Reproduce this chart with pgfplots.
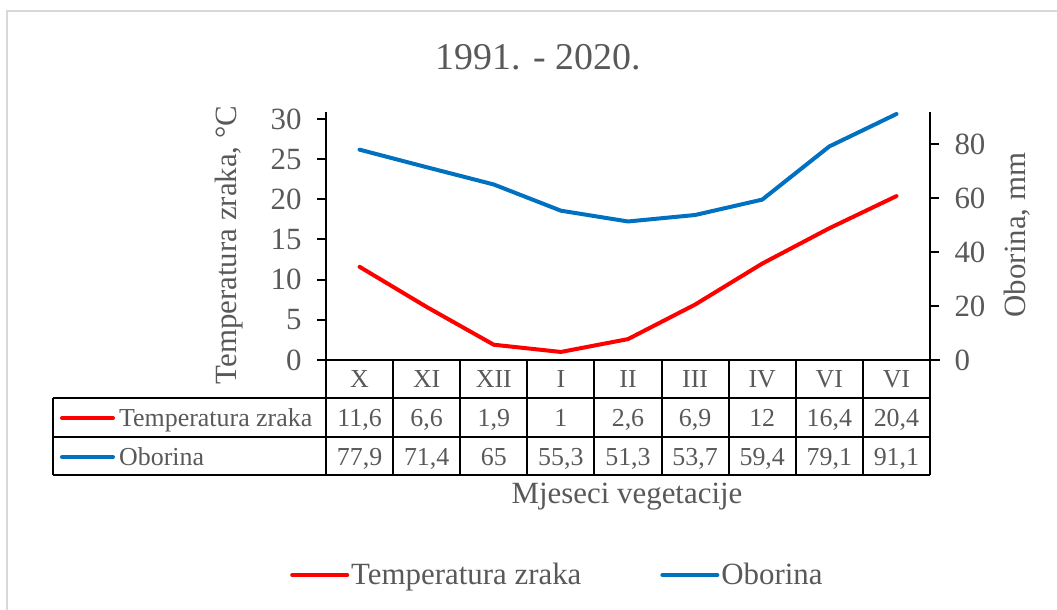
\documentclass[border=0pt]{standalone}
\usepackage{fontspec}
\setmainfont{Liberation Serif}
\usepackage{pgfplots}
\pgfplotsset{compat=1.18}
\definecolor{txt}{HTML}{595959}
\definecolor{tred}{HTML}{FF0000}
\definecolor{oblue}{HTML}{0070C0}
\definecolor{framec}{HTML}{D9D9D9}
\newcommand\fbig{\fontsize{31}{36}\selectfont}
\newcommand\fsmall{\fontsize{26}{30}\selectfont}
\newcommand\ftitle{\fontsize{38}{44}\selectfont}
\pgfplotsset{
  base/.style={
    at={(326bp,250bp)}, anchor=south west, scale only axis,
    width=604bp, height=248bp,
    xmin=-0.5, xmax=8.5, ymin=0, clip=false,
    axis x line=none,
    axis line style={black, line width=2bp},
    tick align=outside, major tick length=9bp,
    every tick/.style={black, line width=2bp},
    yticklabel style={font=\fbig, text=txt},
    /pgf/number format/assume math mode=true,
  }
}
\begin{document}
\begin{tikzpicture}[x=1bp,y=1bp]
\useasboundingbox (0,0) rectangle (1057,610);
\draw[framec, line width=2bp] (7,-20) -- (7,599) -- (1090,599);
% title
\node[text=txt, font=\ftitle] at (538,553) {1991. - 2020.};
% left axis
\begin{axis}[base, ymax=30.87, axis y line*=left, ytick={0,5,...,30},
  yticklabel style={xshift=-12bp}]
\addplot[tred, line width=4bp, line join=round, line cap=round] coordinates {
 (0,11.6) (1,6.6) (2,1.9) (3,1) (4,2.6) (5,6.9) (6,12) (7,16.4) (8,20.4)};
\end{axis}
% right axis
\begin{axis}[base, ymax=91.85, axis y line*=right, ytick={0,20,...,80},
  yticklabel style={xshift=12bp},
  legend columns=2,
  legend style={at={(-0.0596,-0.867)}, anchor=west, draw=none, fill=none,
    font=\fbig, text=txt, inner sep=0pt,
    /tikz/every even column/.append style={column sep=77bp}},
  legend image code/.code={\draw[#1] (0bp,0bp) -- (55bp,0bp);},
  legend cell align=left]
\addlegendimage{tred, line width=4bp, line cap=round}
\addlegendentry{Temperatura zraka}
\addplot[oblue, line width=4bp, line join=round, line cap=round] coordinates {
 (0,77.9) (1,71.4) (2,65) (3,55.3) (4,51.3) (5,53.7) (6,59.4) (7,79.1) (8,91.1)};
\addlegendentry{Oborina}
\end{axis}
% axis titles
\node[rotate=90, text=txt, font=\fbig] at (229,365) {Temperatura zraka, °C};
\node[rotate=90, text=txt, font=\fbig] at (1017,375) {Oborina, mm};
\node[text=txt, font=\fbig] at (627,113) {Mjeseci vegetacije};
% data table
\begin{scope}[line width=2bp, black]
\draw (317,250) -- (940,250);
\draw (53,212) -- (930,212);
\draw (53,173) -- (930,173);
\draw (53,135) -- (930,135);
\draw (53,212) -- (53,135);
\draw (326,250) -- (326,135);
\draw (930,250) -- (930,135);
\foreach \k in {1,...,8} \draw ({326+67.11*\k},250) -- ({326+67.11*\k},135);
\end{scope}
\foreach \lab [count=\i from 0] in {X,XI,XII,I,II,III,IV,VI,VI}
  \node[anchor=base, text=txt, font=\fsmall] at ({326+67.11*(\i+0.5)},222.5) {\lab};
\foreach \v [count=\i from 0] in {{11,6},{6,6},{1,9},{1},{2,6},{6,9},{12},{16,4},{20,4}}
  \node[anchor=base, text=txt, font=\fsmall] at ({326+67.11*(\i+0.5)},183.5) {\v};
\foreach \v [count=\i from 0] in {{77,9},{71,4},{65},{55,3},{51,3},{53,7},{59,4},{79,1},{91,1}}
  \node[anchor=base, text=txt, font=\fsmall] at ({326+67.11*(\i+0.5)},144.5) {\v};
\draw[tred, line width=4bp, line cap=round] (62,192) -- (113,192);
\draw[oblue, line width=4bp, line cap=round] (62,153) -- (113,153);
\node[anchor=base west, inner sep=0pt, text=txt, font=\fsmall] at (119,183.5) {Temperatura zraka};
\node[anchor=base west, inner sep=0pt, text=txt, font=\fsmall] at (119,144.5) {Oborina};
\end{tikzpicture}
\end{document}
